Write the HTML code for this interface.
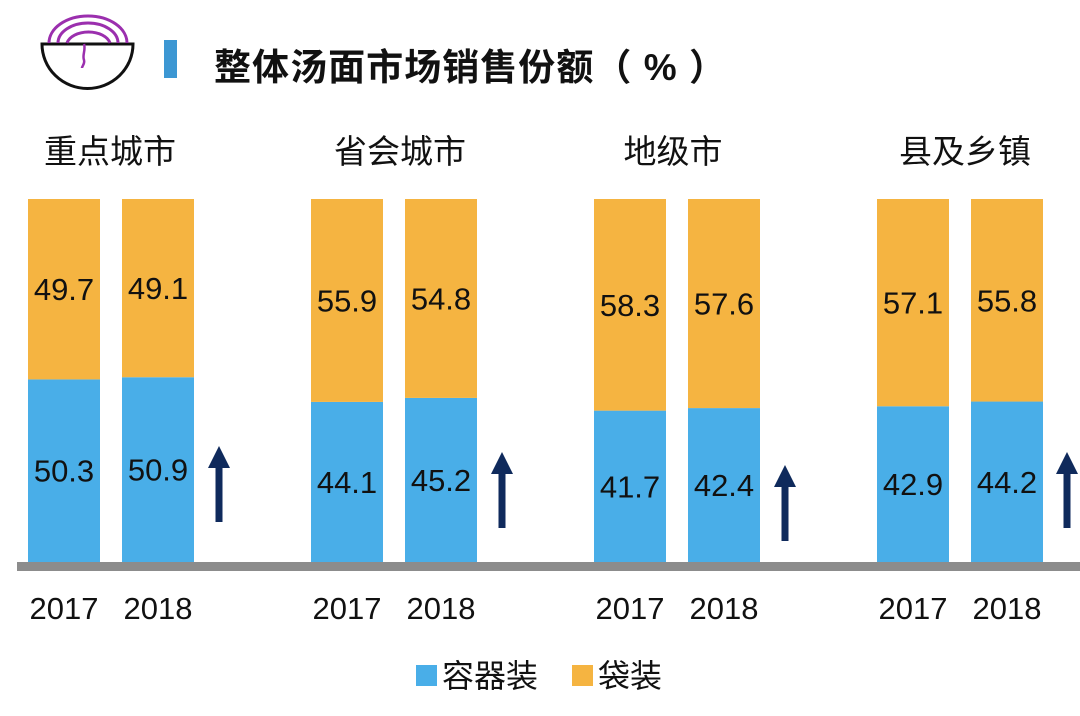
<!DOCTYPE html>
<html><head><meta charset="utf-8"><style>
body{margin:0;background:#fff;width:1080px;height:711px;overflow:hidden;font-family:"Liberation Sans","Noto Sans CJK SC",sans-serif}
svg text{font-family:"Liberation Sans","Noto Sans CJK SC",sans-serif}
</style></head><body>
<svg id="chart" width="1080" height="711" xmlns="http://www.w3.org/2000/svg">
<g>
<path d="M42,44 A45,44 0 0 0 133,44 Z" fill="none" stroke="#111" stroke-width="3"/>
<path d="M49,43 A39,27 0 0 1 127,43" fill="none" stroke="#9b2fae" stroke-width="3"/>
<path d="M58,43 A30,20 0 0 1 118,43" fill="none" stroke="#9b2fae" stroke-width="3"/>
<path d="M67,43 A22,14 0 0 1 110,43" fill="none" stroke="#9b2fae" stroke-width="3"/>
<path d="M84,44 C86,50 82,55 84,60 C85,64 82,66 82,68" fill="none" stroke="#9b2fae" stroke-width="2.5"/>
</g>
<rect x="164" y="40" width="13" height="38" fill="#3c97d3"/>
<text x="214" y="80" font-size="37" font-weight="bold" fill="#111" textLength="512" lengthAdjust="spacing">整体汤面市场销售份额（ % ）</text>
<rect x="17" y="562" width="1063" height="9" fill="#8c8c8c"/>
<g id="bars"></g>
<g>
<rect x="416" y="665" width="21" height="21" fill="#49aee8"/>
<text x="442" y="687" font-size="32" fill="#111">容器装</text>
<rect x="572" y="665" width="21" height="21" fill="#f5b441"/>
<text x="598" y="687" font-size="32" fill="#111">袋装</text>
</g>
</svg>
<script>
const categories=["重点城市","省会城市","地级市","县及乡镇"];
const years=["2017","2018"];
const container2017=[50.3,44.1,41.7,42.9];
const container2018=[50.9,45.2,42.4,44.2];
const bag2017=[49.7,55.9,58.3,57.1];
const bag2018=[49.1,54.8,57.6,55.8];
const NS="http://www.w3.org/2000/svg";
const g=document.getElementById('bars');
const base=562,top0=199;
function y(v){return base-(v/100)*(base-top0);}
function groupX(i){return 28+i*283;}
function mk(tag,attrs){const e=document.createElementNS(NS,tag);for(const k in attrs)e.setAttribute(k,attrs[k]);g.appendChild(e);return e;}
const arrowTops=[446,452,465,452];
const titleCx=[110,400,673,965];
categories.forEach((c,i)=>{
  const gx=groupX(i);
  const t=mk('text',{x:titleCx[i],y:163,'font-size':33,fill:'#111','text-anchor':'middle'});
  t.textContent=c;
  
  
  const sets=[[container2017[i],bag2017[i]],[container2018[i],bag2018[i]]];
  sets.forEach((s,j)=>{
    const x=gx+j*94,w=72;
    const tot=s[0]+s[1];
    const yc=y(s[0]), yt=y(tot);
    const rb=mk('rect',{x:x,y:yc,width:w,height:base-yc,fill:'#49aee8'});
    
    
    const ro=mk('rect',{x:x,y:yt,width:w,height:yc-yt,fill:'#f5b441'});
    
    
    const l1=mk('text',{x:x+w/2,y:(yc+base)/2+11,'font-size':31,fill:'#111','text-anchor':'middle'});
    l1.textContent=s[0].toFixed(1);
    
    
    const l2=mk('text',{x:x+w/2,y:(yt+yc)/2+11,'font-size':31,fill:'#111','text-anchor':'middle'});
    l2.textContent=s[1].toFixed(1);
    
    
    const yl=mk('text',{x:x+w/2,y:619,'font-size':31,fill:'#111','text-anchor':'middle'});
    yl.textContent=years[j];
    
    
  });
  const ax=gx+191+(i==3?-1:0), at=arrowTops[i];
  const a=mk('path',{d:`M${ax},${at} L${ax+11},${at+22} L${ax+3.5},${at+22} L${ax+3.5},${at+76} L${ax-3.5},${at+76} L${ax-3.5},${at+22} L${ax-11},${at+22} Z`,fill:'#0f2a5c'});
  
  
});
</script>
</body></html>
